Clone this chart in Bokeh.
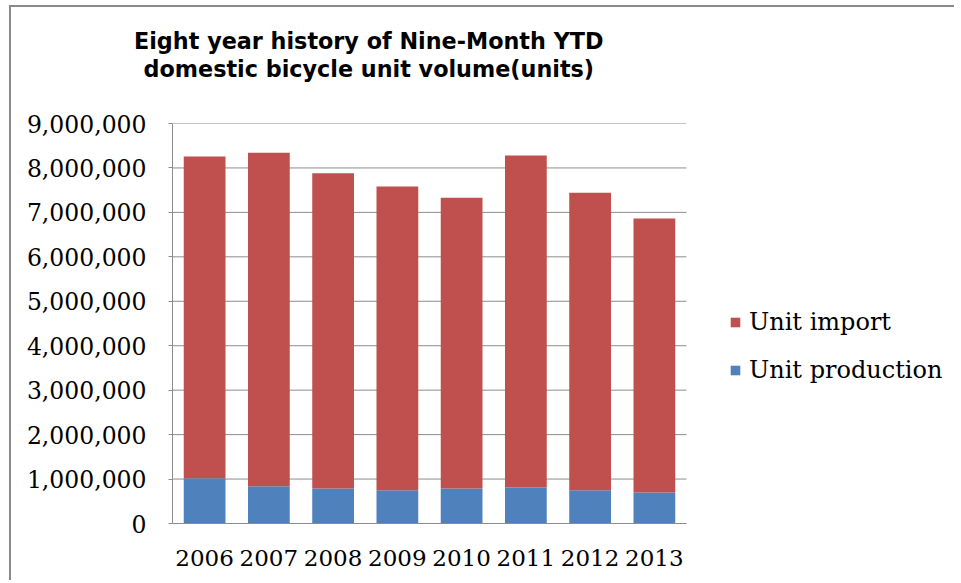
from bokeh.plotting import figure
from bokeh.models import (Range1d, Legend, LegendItem, Title,
                          NumeralTickFormatter, FixedTicker, ColumnDataSource)
from bokeh.embed import file_html
from bokeh.resources import INLINE

years = ["2006", "2007", "2008", "2009", "2010", "2011", "2012", "2013"]
unit_production = [1020000, 840000, 790000, 750000, 790000, 810000, 750000, 700000]
unit_import = [7235000, 7500000, 7090000, 6830000, 6540000, 7470000, 6690000, 6160000]
y_ticks = [0, 1000000, 2000000, 3000000, 4000000, 5000000, 6000000, 7000000, 8000000, 9000000]
title_lines = ["Eight year history of Nine-Month YTD", "domestic bicycle unit volume(units)"]

n = len(years)
xs = [i + 0.5 for i in range(n)]
src = ColumnDataSource(dict(x=xs, year=years, prod=unit_production, imp=unit_import))

# canvas starts at page (11, 7): 9/5 px margin + 2 px chart-area border
W, H = 945, 575
left, top, bottom = 161, 116, 59
cat_px = 64.25          # pixels per category

p = figure(width=W, height=H, output_backend="svg", toolbar_location=None,
           x_range=Range1d(0, (W - left) / cat_px),
           y_range=Range1d(0, y_ticks[-1]),
           min_border_left=left, min_border_right=0, min_border_top=top,
           min_border_bottom=bottom)
p.styles = {"margin-left": "9px", "margin-top": "5px",
            "border-left": "2px solid #8a8a8a", "border-top": "2px solid #8a8a8a"}

# gridlines limited to the plotting area of the categories
p.segment(x0=[0] * len(y_ticks), x1=[n] * len(y_ticks), y0=y_ticks, y1=y_ticks,
          line_color="#8c8c8c", line_width=1)

r_stack = p.vbar_stack(["prod", "imp"], x="x", width=0.65, source=src,
                       color=["#4F81BD", "#C0504D"], line_color=None)

p.outline_line_color = None
p.xgrid.grid_line_color = None
p.ygrid.grid_line_color = None

p.yaxis.ticker = FixedTicker(ticks=y_ticks)
p.yaxis.formatter = NumeralTickFormatter(format="0,0")
p.xaxis.ticker = FixedTicker(ticks=xs)
p.xaxis.major_label_overrides = {x: y for x, y in zip(xs, years)}
p.xaxis.bounds = (0, n)
for ax in (p.xaxis[0], p.yaxis[0]):
    ax.axis_line_color = "#8c8c8c"
    ax.major_label_text_font = "DejaVu Serif"
    ax.major_label_text_color = "#000000"
    ax.minor_tick_line_color = None
p.yaxis.major_label_text_font_size = "23.5px"
p.xaxis.major_label_text_font_size = "23px"
p.yaxis.major_tick_line_color = "#8c8c8c"
p.yaxis.major_tick_out = 4
p.yaxis.major_tick_in = 0
p.yaxis.major_label_standoff = 22
p.xaxis.major_tick_line_color = None
p.xaxis.major_label_standoff = 20

legend = Legend(items=[LegendItem(label="Unit import", renderers=[r_stack[1]]),
                       LegendItem(label="Unit production", renderers=[r_stack[0]])],
                location=(557, 139), orientation="vertical",
                label_text_font="DejaVu Serif", label_text_font_size="24px",
                label_text_color="#000000",
                glyph_width=12, glyph_height=12, label_height=28, spacing=20,
                label_standoff=8, padding=0, margin=0,
                border_line_color=None, background_fill_alpha=0)
p.add_layout(legend, "center")

# title: spacer nearest the frame, then line 2, then line 1
p.add_layout(Title(text=" ", text_font_size="10px", standoff=29), "above")
for txt, off in [(title_lines[1], -29), (title_lines[0], -38.5)]:
    p.add_layout(Title(text=txt, align="left", offset=off, standoff=0,
                       text_font="DejaVu Sans", text_font_style="bold",
                       text_font_size="22.3px", text_color="#000000"), "above")

open("out.html", "w").write(file_html(p, INLINE))
